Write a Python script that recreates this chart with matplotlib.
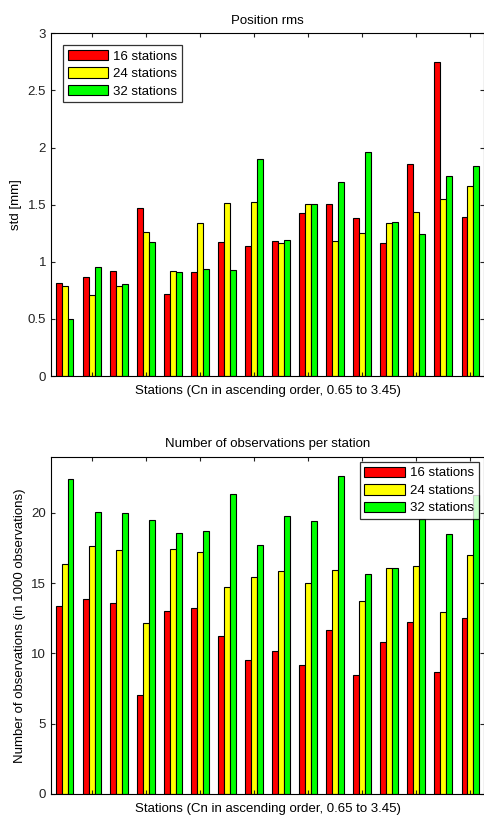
import numpy as np
import matplotlib
matplotlib.use("Agg")
import matplotlib.pyplot as plt

plt.rcParams['font.family'] = ['Liberation Sans', 'DejaVu Sans']

series = ['16 stations', '24 stations', '32 stations']
colors = ['#ff0000', '#ffff00', '#00ff00']

# Position rms, std [mm], stations in ascending Cn order
rms16 = [0.81, 0.87, 0.915, 1.47, 0.72, 0.91, 1.175, 1.135, 1.185, 1.425, 1.51, 1.385, 1.16, 1.86, 2.745, 1.39]
rms24 = [0.785, 0.705, 0.785, 1.26, 0.92, 1.34, 1.515, 1.52, 1.16, 1.51, 1.18, 1.25, 1.34, 1.435, 1.55, 1.665]
rms32 = [0.50, 0.955, 0.807, 1.17, 0.912, 0.94, 0.925, 1.90, 1.19, 1.505, 1.695, 1.96, 1.345, 1.24, 1.75, 1.84]

# Number of observations (in 1000 observations)
obs16 = [13.35, 13.9, 13.6, 7.05, 13.05, 13.2, 11.25, 9.5, 10.15, 9.2, 11.7, 8.45, 10.8, 12.25, 8.65, 12.55]
obs24 = [16.4, 17.65, 17.35, 12.15, 17.4, 17.2, 14.75, 15.45, 15.9, 15.0, 15.95, 13.7, 16.05, 16.2, 12.95, 17.0]
obs32 = [22.4, 20.1, 20.0, 19.5, 18.6, 18.7, 21.35, 17.75, 19.75, 19.4, 22.6, 15.65, 16.1, 19.55, 18.5, 21.25]

xlabel = 'Stations (Cn in ascending order, 0.65 to 3.45)'
fs = 9.5

fig = plt.figure(figsize=(4.84, 8.16), dpi=100)
ax1 = fig.add_axes([0.1054, 0.5392, 0.8946, 0.42])
ax2 = fig.add_axes([0.1054, 0.0270, 0.8946, 0.4133])

x = np.arange(1, 17)
w = 0.22

def bars(ax, data):
    for i, (d, c, lab) in enumerate(zip(data, colors, series)):
        ax.bar(x + (i - 1) * w, d, width=w, color=c, edgecolor='black',
               linewidth=0.8, label=lab)
    ax.set_xlim(0.5, 16.5)
    ax.set_xticks(np.arange(2, 17, 2))
    ax.set_xticklabels([])
    ax.tick_params(direction='in', top=True, right=True, labelsize=fs,
                   length=3, width=0.8, colors='#222222')
    for s in ax.spines.values():
        s.set_linewidth(0.8)
    ax.set_xlabel(xlabel, fontsize=fs, labelpad=3)

def legend(ax, loc, pad):
    leg = ax.legend(loc=loc, fontsize=fs, fancybox=False, edgecolor='black',
                    handlelength=3.1, handleheight=0.85, borderaxespad=pad,
                    labelspacing=0.35, handletextpad=0.35, borderpad=0.35)
    leg.get_frame().set_linewidth(0.9)

bars(ax1, [rms16, rms24, rms32])
ax1.set_ylim(0, 3)
ax1.set_yticks([0, 0.5, 1, 1.5, 2, 2.5, 3])
ax1.set_yticklabels(['0', '0.5', '1', '1.5', '2', '2.5', '3'])
ax1.set_ylabel('std [mm]', fontsize=fs)
ax1.set_title('Position rms', fontsize=fs, pad=7)
legend(ax1, 'upper left', 0.9)

bars(ax2, [obs16, obs24, obs32])
ax2.set_ylim(0, 24)
ax2.set_yticks([0, 5, 10, 15, 20])
ax2.set_ylabel('Number of observations (in 1000 observations)', fontsize=fs)
ax2.set_title('Number of observations per station', fontsize=fs, pad=7)
legend(ax2, 'upper right', 0.4)

fig.savefig('out.png', dpi=100)
